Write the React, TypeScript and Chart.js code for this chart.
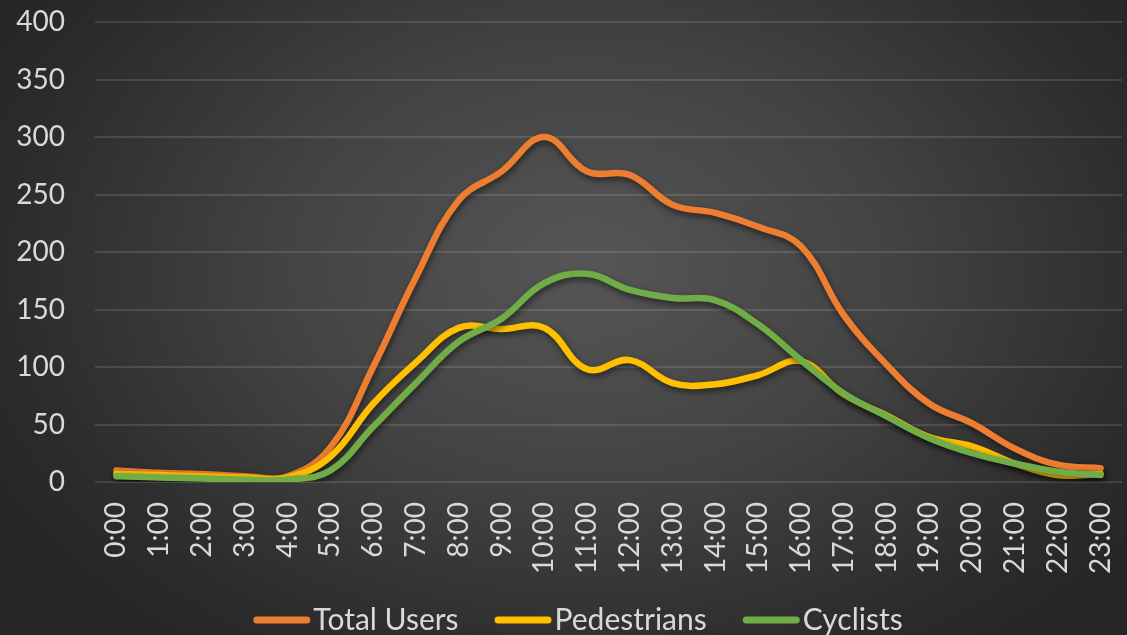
import React, { useEffect, useRef } from "react";
import { Chart, registerables } from "chart.js";

Chart.register(...registerables);

const hours: string[] = [
  "0:00", "1:00", "2:00", "3:00", "4:00", "5:00", "6:00", "7:00", "8:00", "9:00", "10:00", "11:00",
  "12:00", "13:00", "14:00", "15:00", "16:00", "17:00", "18:00", "19:00", "20:00", "21:00", "22:00", "23:00",
];
const totalUsers: number[] = [10, 8, 7, 5, 5, 30, 100, 178, 245, 270, 300, 270, 267, 241, 234, 222, 205, 145, 102, 68, 51, 29, 15, 12];
const pedestrians: number[] = [7, 6, 5, 4, 4, 22, 68, 104, 134, 133, 134, 98, 106, 86, 85, 93, 105, 76, 58, 39, 31, 16, 6, 7];
const cyclists: number[] = [5, 4, 3, 2, 2, 10, 48, 86, 122, 142, 173, 181, 167, 160, 158, 137, 106, 77, 57, 38, 25, 16, 9, 6];
const seriesNames: string[] = ["Total Users", "Pedestrians", "Cyclists"];
const seriesColors: string[] = ["#ED7D31", "#FFC000", "#70AD47"];

const TEXT = "#D9D9D9";
const FONT = "Lato";

const shadowPlugin = {
  id: "lineShadow",
  beforeDatasetDraw(chart: any) {
    const ctx = chart.ctx;
    ctx.save();
    ctx.shadowColor = "rgba(0,0,0,0.55)";
    ctx.shadowBlur = 6;
    ctx.shadowOffsetX = 1;
    ctx.shadowOffsetY = 3;
  },
  afterDatasetDraw(chart: any) {
    chart.ctx.restore();
  },
};

const legendPlugin = {
  id: "lineLegend",
  afterDraw(chart: any) {
    const ctx = chart.ctx;
    const ds = chart.data.datasets;
    const lineW = 57;
    const lineGap = 3;
    const itemGap = 36;
    const cy = 620;
    const cx = 578;
    ctx.save();
    ctx.font = `30px ${FONT}`;
    const widths = ds.map((d: any) => ctx.measureText(d.label).width);
    let total = 0;
    widths.forEach((w: number, i: number) => {
      total += lineW + lineGap + w + (i < widths.length - 1 ? itemGap : 0);
    });
    let x = cx - total / 2;
    ds.forEach((d: any, i: number) => {
      ctx.strokeStyle = d.borderColor;
      ctx.lineWidth = 7;
      ctx.lineCap = "round";
      ctx.beginPath();
      ctx.moveTo(x + 3.5, cy);
      ctx.lineTo(x + lineW - 3.5, cy);
      ctx.stroke();
      x += lineW + lineGap;
      ctx.fillStyle = TEXT;
      ctx.textBaseline = "middle";
      ctx.textAlign = "left";
      ctx.fillText(d.label, x, cy);
      x += widths[i] + itemGap;
    });
    ctx.restore();
  },
};

export default function App() {
  const canvasRef = useRef<HTMLCanvasElement | null>(null);

  useEffect(() => {
    document.body.style.margin = "0";
    const canvas = canvasRef.current;
    if (!canvas) return;
    const datasets = [totalUsers, pedestrians, cyclists].map((d, i) => ({
      label: seriesNames[i],
      data: d,
      borderColor: seriesColors[i],
      backgroundColor: seriesColors[i],
      borderWidth: 6.5,
      pointRadius: 0,
      tension: 0.4,
      fill: false,
      borderCapStyle: "round" as const,
      borderJoinStyle: "round" as const,
      order: 3 - i,
    }));
    const chart = new Chart(canvas, {
      type: "line",
      data: { labels: hours, datasets },
      plugins: [shadowPlugin, legendPlugin],
      options: {
        responsive: false,
        animation: false,
        layout: { padding: { left: 0, right: 5, top: 22, bottom: 0 } },
        scales: {
          x: {
            offset: true,
            grid: { display: false },
            border: { display: false },
            afterFit: (s: any) => {
              s.paddingLeft = 0;
              s.paddingRight = 0;
              s.height = 153;
            },
            ticks: {
              color: TEXT,
              font: { family: FONT, size: 28 },
              minRotation: 90,
              maxRotation: 90,
              padding: 12,
              autoSkip: false,
            },
          },
          y: {
            min: 0,
            max: 400,
            grid: { color: "rgba(255,255,255,0.12)", lineWidth: 2, drawTicks: false },
            border: { display: false },
            afterFit: (s: any) => {
              s.paddingTop = 0;
              s.paddingBottom = 0;
              s.width = 95;
            },
            ticks: {
              stepSize: 50,
              color: TEXT,
              font: { family: FONT, size: 28 },
              padding: 30,
            },
          },
        },
        plugins: {
          tooltip: { enabled: false },
          legend: { display: false },
        },
      },
    });
    return () => chart.destroy();
  }, []);

  return (
    <div
      style={{
        width: 1127,
        height: 635,
        background: "radial-gradient(ellipse 60% 75% at 52% 42%, #565656 0%, #434343 45%, #2c2c2c 85%, #262626 100%)",
      }}
    >
      <canvas ref={canvasRef} width={1127} height={635} style={{ display: "block" }} />
    </div>
  );
}
